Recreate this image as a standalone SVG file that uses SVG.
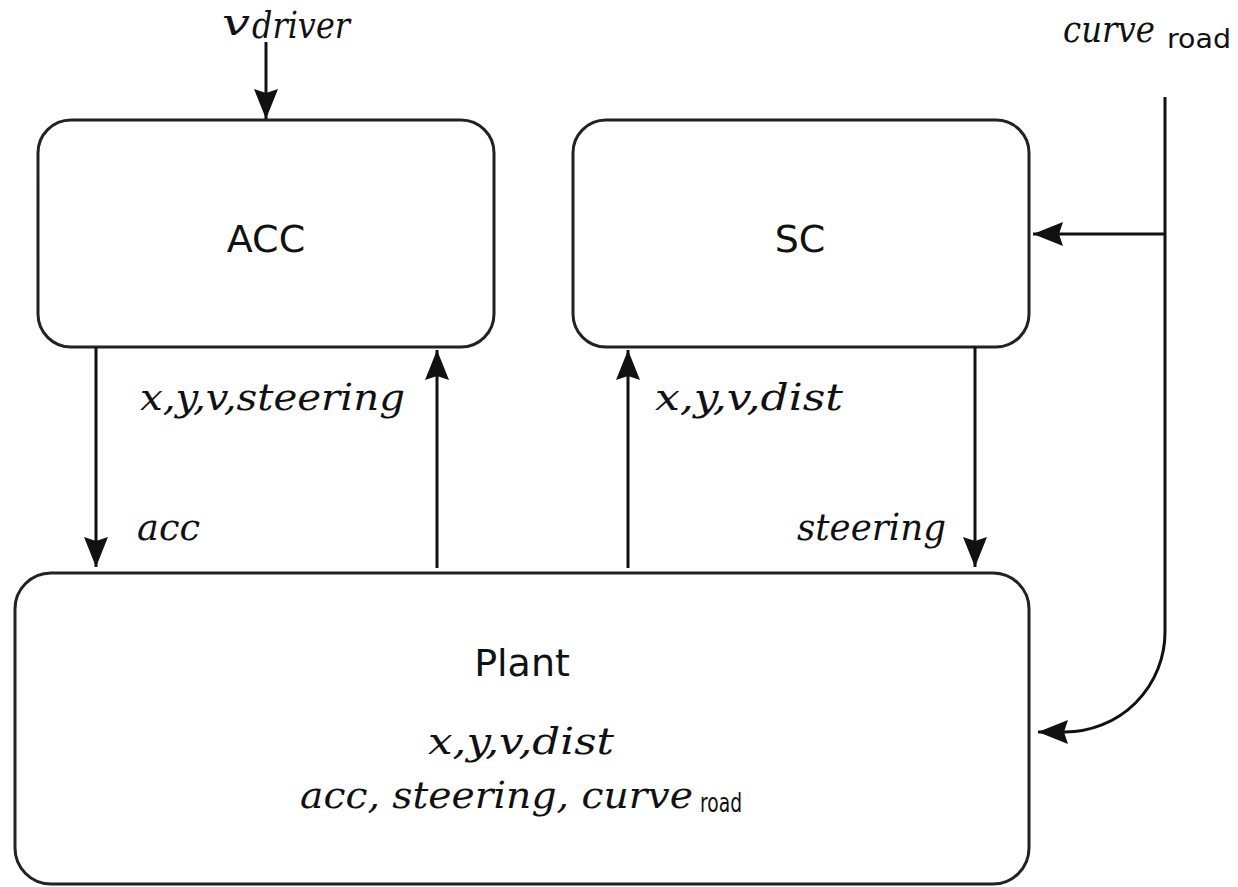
<svg xmlns="http://www.w3.org/2000/svg" width="1238" height="887" viewBox="0 0 1238 887">
<style>
.box{fill:#fff;stroke:#222;stroke-width:3}
.lbl{font-family:"DejaVu Sans",sans-serif;font-size:38px;fill:#111;text-anchor:middle}
.m{font-family:"DejaVu Serif","Liberation Serif",serif;font-style:italic;font-size:38px;fill:#111}
.sub{font-family:"DejaVu Sans",sans-serif;font-size:26px;fill:#111}
.c{fill:none;stroke:#111;stroke-width:3}
</style>
<defs>
<marker id="ah" viewBox="0 0 30 24" refX="30" refY="12" markerWidth="30" markerHeight="24" markerUnits="userSpaceOnUse" orient="auto">
<path d="M0,0 L30,12 L0,24 L4,12 Z" fill="#111"/>
</marker>
</defs>
<rect width="1238" height="887" fill="#fff"/>
<g id="acc">
<rect class="box" x="38" y="120" width="456" height="227" rx="33"/>
<text class="lbl" x="266" y="252">ACC</text>
</g>
<g id="sc">
<rect class="box" x="573" y="120" width="456" height="227" rx="33"/>
<text class="lbl" x="800" y="252">SC</text>
</g>
<g id="plant">
<rect class="box" x="15" y="573" width="1014" height="311" rx="36"/>
<text class="lbl" x="522" y="676">Plant</text>
<text class="m" x="428" y="754" textLength="186" lengthAdjust="spacingAndGlyphs">x,y,v,dist</text>
<text class="m" x="300" y="808" textLength="393" lengthAdjust="spacingAndGlyphs">acc, steering, curve</text>
<text class="sub" x="700" y="812" font-size="20" textLength="42" lengthAdjust="spacingAndGlyphs">road</text>
</g>
<g id="connectors">
<line class="c" x1="266" y1="42" x2="266" y2="119" marker-end="url(#ah)"/>
<line class="c" x1="96" y1="347" x2="96" y2="567" marker-end="url(#ah)"/>
<line class="c" x1="437" y1="568" x2="437" y2="350" marker-end="url(#ah)"/>
<line class="c" x1="628" y1="568" x2="628" y2="350" marker-end="url(#ah)"/>
<line class="c" x1="975" y1="347" x2="975" y2="567" marker-end="url(#ah)"/>
<line class="c" x1="1165" y1="234" x2="1033" y2="234" marker-end="url(#ah)"/>
<path class="c" d="M1165,97 L1165,632 A100,100 0 0 1 1065,732 L1038,732" marker-end="url(#ah)"/>
</g>
<g id="labels">
<text class="m" x="222" y="35" font-size="34" textLength="28" lengthAdjust="spacingAndGlyphs">v</text>
<text class="m" x="252" y="38" font-size="28" textLength="98" lengthAdjust="spacingAndGlyphs">driver</text>
<text class="m" x="1063" y="42" textLength="92" lengthAdjust="spacingAndGlyphs">curve</text>
<text class="sub" x="1167" y="48" font-size="26" textLength="64" lengthAdjust="spacingAndGlyphs">road</text>
<text class="m" x="140" y="410" textLength="265" lengthAdjust="spacingAndGlyphs">x,y,v,steering</text>
<text class="m" x="655" y="410" textLength="188" lengthAdjust="spacingAndGlyphs">x,y,v,dist</text>
<text class="m" x="137" y="540" textLength="63" lengthAdjust="spacingAndGlyphs">acc</text>
<text class="m" x="797" y="540" textLength="149" lengthAdjust="spacingAndGlyphs">steering</text>
</g>
</svg>
